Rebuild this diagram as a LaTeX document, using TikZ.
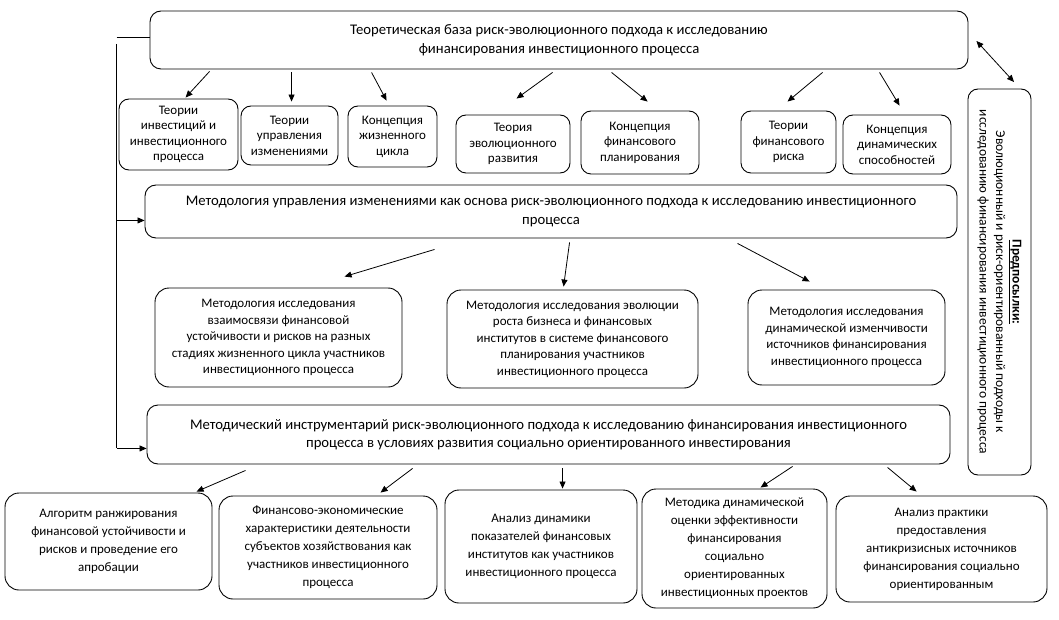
\documentclass[tikz,border=0pt]{standalone}
\usepackage{fontspec}
\setmainfont{Carlito}
\usetikzlibrary{arrows.meta,calc}
\begin{document}
\begin{tikzpicture}[x=1pt,y=-1pt,
  bx/.style={draw, rounded corners=10pt, line width=0.9pt, align=center, inner sep=2pt,
    font=\fontsize{13}{15.5}\selectfont},
  sixbox/.style={bx, rounded corners=14pt, font=\fontsize{13}{18}\selectfont},
  fourbox/.style={bx, rounded corners=14pt, font=\fontsize{13}{16.5}\selectfont},
  big/.style={bx, rounded corners=11pt, font=\fontsize{14.7}{18.5}\selectfont},
  arr/.style={-{Triangle[length=7pt,width=6pt]}, line width=0.8pt},
  dbl/.style={{Triangle[length=7pt,width=6pt]}-{Triangle[length=7pt,width=6pt]}, line width=0.8pt},
  ln/.style={line width=0.8pt},
]
\useasboundingbox (0,0) rectangle (1059,620);
\fill[white] (0,0) rectangle (1059,620);

% top box
\node[big, minimum width=818pt, minimum height=58pt] (top) at (559,40)
  {Теоретическая база риск-эволюционного подхода к исследованию\\финансирования инвестиционного процесса};

% row 2
\node[bx, minimum width=119pt, minimum height=71pt] (r2a) at (178.5,134.5)
  {Теории\\инвестиций и\\инвестиционного\\процесса};
\node[bx, minimum width=97pt, minimum height=59pt] (r2b) at (289.5,135.5)
  {Теории\\управления\\изменениями};
\node[bx, minimum width=89pt, minimum height=61pt] (r2c) at (392.5,136.5)
  {Концепция\\жизненного\\цикла};
\node[bx, minimum width=114pt, minimum height=58pt] (r2d) at (513,144)
  {Теория\\эволюционного\\развития};
\node[bx, minimum width=118pt, minimum height=63pt] (r2e) at (640,142.5)
  {Концепция\\финансового\\планирования};
\node[bx, minimum width=95pt, minimum height=62pt] (r2f) at (788.5,142)
  {Теории\\финансового\\риска};
\node[bx, minimum width=108pt, minimum height=59pt] (r2g) at (897,144.5)
  {Концепция\\динамических\\способностей};

% middle methodology box
\node[big, minimum width=812pt, minimum height=53pt] (mid) at (551,211.5)
  {Методология управления изменениями как основа риск-эволюционного подхода к исследованию инвестиционного\\процесса};

% row 4
\node[fourbox, minimum width=247pt, minimum height=99pt] (r4a) at (278.5,337.5)
  {Методология исследования\\взаимосвязи финансовой\\устойчивости и рисков на разных\\стадиях жизненного цикла участников\\инвестиционного процесса};
\node[fourbox, minimum width=251pt, minimum height=98pt] (r4b) at (572.5,339)
  {Методология исследования эволюции\\роста бизнеса и финансовых\\институтов в системе финансового\\планирования участников\\инвестиционного процесса};
\node[fourbox, minimum width=197pt, minimum height=95pt] (r4c) at (846.5,337.5)
  {Методология исследования\\динамической изменчивости\\источников финансирования\\инвестиционного процесса};

% tool box
\node[big, minimum width=803pt, minimum height=59pt] (tool) at (548.5,434.5)
  {Методический инструментарий риск-эволюционного подхода к исследованию финансирования инвестиционного\\процесса в условиях развития социально ориентированного инвестирования};

% row 6
\node[sixbox, minimum width=207pt, minimum height=97pt] (r6a) at (108.5,541.5)
  {Алгоритм ранжирования\\финансовой устойчивости и\\рисков и проведение его\\апробации};
\node[sixbox, minimum width=218pt, minimum height=103pt] (r6b) at (328,547.5)
  {Финансово-экономические\\характеристики деятельности\\субъектов хозяйствования как\\участников инвестиционного\\процесса};
\node[sixbox, minimum width=192pt, minimum height=113pt] (r6c) at (541,546.5)
  {Анализ динамики\\показателей финансовых\\институтов как участников\\инвестиционного процесса};
\node[sixbox, minimum width=185pt, minimum height=119pt] (r6d) at (734.5,548.5)
  {Методика динамической\\оценки эффективности\\финансирования\\социально\\ориентированных\\инвестиционных проектов};
\node[sixbox, minimum width=211pt, minimum height=106pt] (r6e) at (941.5,549)
  {Анализ практики\\предоставления\\антикризисных источников\\финансирования социально\\ориентированным};

% premises box (rotated)
\node[bx, rotate=-90, minimum width=386pt, minimum height=63pt, font=\fontsize{13.5}{16.5}\selectfont] (pre) at (999.5,282)
  {\underline{\textbf{Предпосылки:}}\\Эволюционный и риск-ориентированный подходы к\\исследованию финансирования инвестиционного процесса};

% left bracket line
\coordinate (lh) at ($(top.west)+(-33,-3)$);
\coordinate (lv) at ($(top.west)+(-33,4)$);
\coordinate (m1) at ($(mid.south west)+(0,-18)$);
\coordinate (m2) at ($(tool.south west)+(0,-16)$);
\draw[ln] (lh) -- ($(top.west)+(0,-3)$);
\draw[ln] (lv) -- (lv |- m2);
\draw[arr] (lv |- m1) -- (m1);
\draw[arr] (lv |- m2) -- (m2);

% double arrow top <-> premises
\draw[dbl] ($(top.east)+(8,1)$) -- ($(pre.center)+(14.5,-200)$);

% top -> row 2
\draw[arr] ($(top.south west)+(60,2)$) -- ($(r2a.north west)+(67,-1)$);
\draw[arr] ($(top.south west)+(142,3)$) -- ($(r2b.north west)+(51,-4)$);
\draw[arr] ($(top.south west)+(222,3)$) -- ($(r2c.north west)+(39,-5)$);
\draw[arr] ($(top.south west)+(403,3)$) -- ($(r2d.north west)+(61,-16)$);
\draw[arr] ($(top.south west)+(462,3)$) -- ($(r2e.north west)+(67,-9)$);
\draw[arr] ($(top.south west)+(673,3)$) -- ($(r2f.north west)+(47,-9)$);
\draw[arr] ($(top.south west)+(730,3)$) -- ($(r2g.north west)+(57,-9)$);

% mid -> row 4
\draw[arr] ($(mid.south west)+(290,11)$) -- ($(r4a.north west)+(190,-11)$);
\draw[arr] ($(mid.south west)+(425,4)$) -- ($(r4b.north west)+(117,-3)$);
\draw[arr] ($(mid.south west)+(593,5)$) -- ($(r4c.north west)+(62,-8)$);

% tool -> row 6
\draw[arr] ($(tool.south west)+(99,6)$) -- ($(r6a.north west)+(192,-1)$);
\draw[arr] ($(tool.south west)+(266,4)$) -- ($(r6b.north west)+(162,-3)$);
\draw[arr] ($(tool.south west)+(416,4)$) -- ($(r6c.north west)+(118,-1)$);
\draw[arr] ($(tool.south west)+(646,2)$) -- ($(r6d.north west)+(119,-1)$);
\draw[arr] ($(tool.south west)+(741,3)$) -- ($(r6e.north west)+(81,-4)$);
\end{tikzpicture}
\end{document}
